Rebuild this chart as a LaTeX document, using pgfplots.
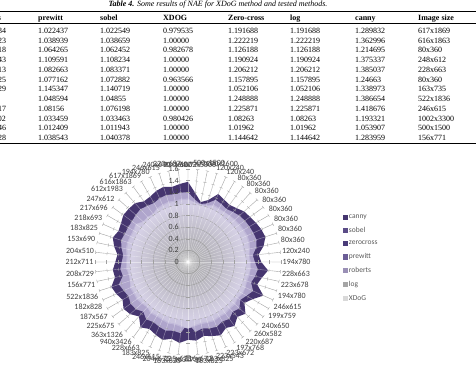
\documentclass[border=0pt]{standalone}
\usepackage{pgfplots}
\pgfplotsset{compat=1.18}
\usepackage{pgfplotstable}
\usepgfplotslibrary{polar}
\usepackage{fontspec}
\setmainfont{Liberation Serif}
\newfontfamily\calfont{Carlito}
\definecolor{cannyc}{HTML}{45356F}
\definecolor{sobelc}{HTML}{5B4C87}
\definecolor{zcc}{HTML}{4A3C79}
\definecolor{prewc}{HTML}{6B5D96}
\definecolor{robc}{HTML}{9A90B6}
\definecolor{logc}{HTML}{A6A6A6}
\definecolor{xdogc}{HTML}{D9D9D9}
\definecolor{bandA}{HTML}{AFA5CC}
\definecolor{bandB}{HTML}{C0B8D9}
\definecolor{bandC}{HTML}{CBC5DF}
\definecolor{bandD}{HTML}{D6D1E6}
\definecolor{labc}{HTML}{404040}
\definecolor{legc}{HTML}{595959}
\definecolor{gridc}{HTML}{A0A0A0}

\pgfplotstableread{
i canny zc log sobel prewitt roberts xdog
0 1.380 1.200 1.200 1.090 1.090 1.070 1.000
1 1.193 1.083 1.083 1.033 1.033 1.031 0.980
2 1.054 1.020 1.020 1.012 1.012 1.011 1.000
3 1.120 1.060 1.060 1.020 1.020 1.010 0.990
4 1.280 1.170 1.170 1.080 1.080 1.060 1.000
5 1.240 1.150 1.150 1.070 1.070 1.050 0.990
6 1.215 1.126 1.126 1.062 1.064 1.059 0.983
7 1.247 1.158 1.158 1.073 1.077 1.070 0.964
8 1.300 1.190 1.190 1.090 1.090 1.070 0.980
9 1.320 1.210 1.210 1.100 1.100 1.080 0.990
10 1.350 1.220 1.220 1.110 1.110 1.090 1.000
11 1.380 1.230 1.230 1.120 1.120 1.100 0.990
12 1.400 1.240 1.240 1.110 1.110 1.090 0.980
13 1.330 1.200 1.200 1.090 1.090 1.070 0.970
14 1.220 1.120 1.120 1.060 1.060 1.050 0.990
15 1.260 1.150 1.150 1.080 1.080 1.060 1.000
16 1.385 1.206 1.206 1.083 1.083 1.080 1.000
17 1.300 1.180 1.180 1.080 1.080 1.060 1.000
18 1.250 1.140 1.140 1.070 1.070 1.050 1.000
19 1.419 1.226 1.226 1.076 1.082 1.075 1.000
20 1.280 1.160 1.160 1.090 1.090 1.070 1.000
21 1.200 1.110 1.110 1.060 1.060 1.050 0.990
22 1.330 1.190 1.190 1.090 1.090 1.070 1.000
23 1.270 1.150 1.150 1.080 1.080 1.060 1.000
24 1.360 1.210 1.210 1.100 1.100 1.080 1.000
25 1.310 1.180 1.180 1.090 1.090 1.070 1.000
26 1.380 1.220 1.220 1.110 1.110 1.090 1.000
27 1.340 1.200 1.200 1.100 1.100 1.080 1.000
28 1.300 1.170 1.170 1.090 1.090 1.070 1.000
29 1.360 1.210 1.210 1.110 1.110 1.090 1.000
30 1.339 1.052 1.052 1.141 1.145 1.140 1.000
31 1.400 1.230 1.230 1.120 1.120 1.100 1.000
32 1.350 1.210 1.210 1.100 1.100 1.080 1.000
33 1.410 1.240 1.240 1.110 1.110 1.090 1.000
34 1.370 1.220 1.220 1.090 1.090 1.070 1.000
35 1.330 1.190 1.190 1.080 1.080 1.060 1.000
36 1.390 1.220 1.220 1.090 1.090 1.070 1.000
37 1.260 1.150 1.150 1.050 1.050 1.040 0.990
38 1.340 1.210 1.210 1.070 1.070 1.050 1.000
39 1.370 1.220 1.220 1.090 1.090 1.070 1.000
40 1.300 1.180 1.180 1.080 1.080 1.060 1.000
41 1.350 1.210 1.210 1.090 1.090 1.070 1.000
42 1.387 1.249 1.249 1.049 1.049 1.046 1.000
43 1.284 1.145 1.145 1.040 1.039 1.037 1.000
44 1.300 1.170 1.170 1.070 1.070 1.050 1.000
45 1.250 1.140 1.140 1.060 1.060 1.050 1.000
46 1.220 1.120 1.120 1.060 1.060 1.040 0.990
47 1.300 1.170 1.170 1.090 1.090 1.070 1.000
48 1.360 1.210 1.210 1.100 1.100 1.080 1.000
49 1.310 1.190 1.190 1.090 1.090 1.070 1.000
50 1.330 1.190 1.190 1.090 1.090 1.070 1.000
51 1.375 1.191 1.191 1.108 1.110 1.104 1.000
52 1.370 1.210 1.210 1.040 1.040 1.030 0.990
53 1.363 1.222 1.222 1.039 1.039 1.037 1.000
54 1.290 1.192 1.192 1.023 1.022 1.020 0.980
55 1.300 1.170 1.170 1.070 1.070 1.050 1.000
56 1.340 1.200 1.200 1.080 1.080 1.060 1.000
57 1.360 1.210 1.210 1.090 1.090 1.070 1.000
58 1.320 1.190 1.190 1.080 1.080 1.060 1.000
59 1.350 1.200 1.200 1.090 1.090 1.070 1.000
}\radar

\newcommand\trow[9]{%
  \node[anchor=base west,inner sep=0pt] at (-24pt,-#1pt) {#2};
  \node[anchor=base west,inner sep=0pt] at (38pt,-#1pt) {#3};
  \node[anchor=base west,inner sep=0pt] at (100pt,-#1pt) {#4};
  \node[anchor=base west,inner sep=0pt] at (163pt,-#1pt) {#5};
  \node[anchor=base west,inner sep=0pt] at (228pt,-#1pt) {#6};
  \node[anchor=base west,inner sep=0pt] at (290pt,-#1pt) {#7};
  \node[anchor=base west,inner sep=0pt] at (355pt,-#1pt) {#8};
  \node[anchor=base west,inner sep=0pt] at (418pt,-#1pt) {#9};
}

\begin{document}
\begin{tikzpicture}
\path[use as bounding box] (0pt,0pt) rectangle (476pt,-379pt);
% ----- table
\begin{scope}[font=\fontsize{8}{9.75}\selectfont]
\node[anchor=base,inner sep=0pt] at (218pt,-6.3pt) {\textbf{\textit{Table 4.}} \textit{Some results of NAE for XDoG method and tested methods.}};
\draw[line width=1.1pt] (-30pt,-11.8pt) -- (480pt,-11.8pt);
\trow{20.3}{\textbf{roberts}}{\textbf{prewitt}}{\textbf{sobel}}{\textbf{XDOG}}{\textbf{Zero-cross}}{\textbf{log}}{\textbf{canny}}{\textbf{Image size}}
\draw[line width=0.5pt] (-30pt,-23.6pt) -- (480pt,-23.6pt);
\trow{33.5}{1.020334}{1.022437}{1.022549}{0.979535}{1.191688}{1.191688}{1.289832}{617x1869}
\trow{43.25}{1.037223}{1.038939}{1.038659}{1.00000}{1.222219}{1.222219}{1.362996}{616x1863}
\trow{53}{1.058918}{1.064265}{1.062452}{0.982678}{1.126188}{1.126188}{1.214695}{80x360}
\trow{62.75}{1.104443}{1.109591}{1.108234}{1.00000}{1.190924}{1.190924}{1.375337}{248x612}
\trow{72.5}{1.079813}{1.082663}{1.083371}{1.00000}{1.206212}{1.206212}{1.385037}{228x663}
\trow{82.25}{1.070125}{1.077162}{1.072882}{0.963566}{1.157895}{1.157895}{1.24663}{80x360}
\trow{92}{1.139529}{1.145347}{1.140719}{1.00000}{1.052106}{1.052106}{1.338973}{163x735}
\trow{101.75}{1.0459}{1.048594}{1.04855}{1.00000}{1.248888}{1.248888}{1.386654}{522x1836}
\trow{111.5}{1.075217}{1.08156}{1.076198}{1.00000}{1.225871}{1.225871}{1.418676}{246x615}
\trow{121.25}{1.031102}{1.033459}{1.033463}{0.980426}{1.08263}{1.08263}{1.193321}{1002x3300}
\trow{131}{1.010746}{1.012409}{1.011943}{1.00000}{1.01962}{1.01962}{1.053907}{500x1500}
\trow{140.75}{1.036828}{1.038543}{1.040378}{1.00000}{1.144642}{1.144642}{1.283959}{156x771}
\draw[line width=1.1pt] (-30pt,-143.6pt) -- (480pt,-143.6pt);
\end{scope}
% ----- radar
\begin{polaraxis}[
  at={(188pt,-262pt)}, anchor=center,
  scale only axis, width=186pt, height=186pt,
  xmin=0, xmax=360, ymin=0, ymax=1.6,
  xtick={90,84,78,72,66,60,54,48,42,36,30,24,18,12,6,0,354,348,342,336,330,324,318,312,306,300,294,288,282,276,270,264,258,252,246,240,234,228,222,216,210,204,198,192,186,180,174,168,162,156,150,144,138,132,126,120,114,108,102,96},
  xticklabels={194x777,1002x3300,500x1500,1200x1600,120x240,120x240,80x360,80x360,80x360,80x360,80x360,80x360,80x360,80x360,120x240,194x780,228x663,223x678,194x780,246x615,199x759,240x650,260x582,220x687,197x768,223x672,223x543,183x825,183x825,216x672,163x735,225x675,183x825,204x675,246x615,183x825,228x663,940x3426,363x1326,225x675,187x567,182x828,522x1836,156x771,208x729,212x711,204x510,153x690,183x825,218x693,217x696,247x612,612x1983,616x1863,617x1869,194x780,246x615,240x690,220x687,230x687},
  xticklabel style={font=\calfont\fontsize{8}{9}\selectfont, text=labc, inner sep=1.5pt},
  ytick=\empty,
  xmajorgrids=true, ymajorgrids=false,
  major x grid style={gridc, line width=0.4pt},
  axis line style={draw=none},
  x tick style={draw=none},
  clip=false,
  legend image code/.code={\path[#1,draw=none] (0pt,-2.6pt) rectangle (5.2pt,2.6pt);},
  legend style={at={(1.315,0.77)}, anchor=north west, draw=none, fill=none,
    font=\calfont\fontsize{7.5}{9}\selectfont, text=legc, row sep=5.2pt,
    nodes={inner sep=1pt}},
  legend cell align=left,
]
\addplot[forget plot, draw=none, fill=cannyc] table[x expr={mod(450-6*\thisrow{i},360)}, y=canny] {\radar};
\addplot[forget plot, draw=none, fill=zcc] table[x expr={mod(450-6*\thisrow{i},360)}, y=zc] {\radar};
\addplot[forget plot, draw=none, fill=bandA] table[x expr={mod(450-6*\thisrow{i},360)}, y=log] {\radar};
\addplot[forget plot, draw=none, fill=bandB] table[x expr={mod(450-6*\thisrow{i},360)}, y=sobel] {\radar};
\addplot[forget plot, draw=none, fill=bandB] table[x expr={mod(450-6*\thisrow{i},360)}, y=prewitt] {\radar};
\addplot[forget plot, draw=none, fill=bandC] table[x expr={mod(450-6*\thisrow{i},360)}, y=roberts] {\radar};
\addplot[forget plot, draw=none, shade, shading=radial, inner color=gray!70, outer color=bandD] table[x expr={mod(450-6*\thisrow{i},360)}, y=xdog] {\radar};
% white spokes over areas
\pgfplotsinvokeforeach{0,6,...,354}{
  \draw[white, opacity=0.45, line width=0.4pt] (axis cs:#1,0) -- (axis cs:#1,1.45);
  \draw[gridc, line width=0.35pt]
   (axis cs:#1,0.2) ++(#1+90:1.7pt) -- ++(#1-90:3.4pt)
   (axis cs:#1,0.4) ++(#1+90:1.7pt) -- ++(#1-90:3.4pt)
   (axis cs:#1,0.6) ++(#1+90:1.7pt) -- ++(#1-90:3.4pt)
   (axis cs:#1,0.8) ++(#1+90:1.7pt) -- ++(#1-90:3.4pt)
   (axis cs:#1,1.0) ++(#1+90:1.7pt) -- ++(#1-90:3.4pt)
   (axis cs:#1,1.2) ++(#1+90:1.7pt) -- ++(#1-90:3.4pt)
   (axis cs:#1,1.4) ++(#1+90:1.7pt) -- ++(#1-90:3.4pt)
   (axis cs:#1,1.6) ++(#1+90:1.7pt) -- ++(#1-90:3.4pt);
}
\pgfplotsinvokeforeach{0,0.2,0.4,0.6,0.8,1,1.2,1.4,1.6}{
  \node[anchor=east, inner sep=0pt, xshift=-9pt, font=\calfont\fontsize{8}{9}\selectfont, text=labc] at (axis cs:90,#1) {#1};
}
\addlegendimage{fill=cannyc}\addlegendentry{canny}
\addlegendimage{fill=sobelc}\addlegendentry{sobel}
\addlegendimage{fill=zcc}\addlegendentry{zerocross}
\addlegendimage{fill=prewc}\addlegendentry{prewitt}
\addlegendimage{fill=robc}\addlegendentry{roberts}
\addlegendimage{fill=logc}\addlegendentry{log}
\addlegendimage{fill=xdogc}\addlegendentry{XDoG}
\end{polaraxis}
\end{tikzpicture}
\end{document}
